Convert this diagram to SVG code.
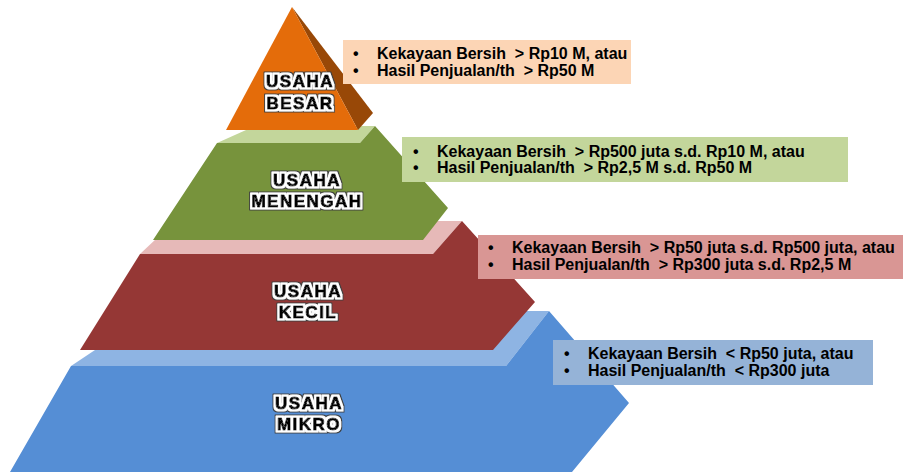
<svg xmlns="http://www.w3.org/2000/svg" width="905" height="472" viewBox="0 0 905 472">
<defs>
<style>
.lbl{font-family:"Liberation Sans",Arial,sans-serif;font-weight:bold;font-size:17px;letter-spacing:1.5px;fill:#000;stroke:#000;stroke-width:1px;stroke-linejoin:round;text-anchor:middle}
.txt{font-family:"Liberation Sans",Arial,sans-serif;font-weight:bold;font-size:16px;fill:#000}
</style>
<filter id="halo" x="-15%" y="-40%" width="130%" height="180%">
<feMorphology in="SourceAlpha" operator="dilate" radius="2" result="w"/>
<feMorphology in="SourceAlpha" operator="dilate" radius="3" result="o"/>
<feFlood flood-color="#404040"/>
<feComposite in2="o" operator="in" result="oc"/>
<feFlood flood-color="#ffffff"/>
<feComposite in2="w" operator="in" result="wc"/>
<feMerge><feMergeNode in="oc"/><feMergeNode in="wc"/><feMergeNode in="SourceGraphic"/></feMerge>
</filter>
</defs>
<rect width="905" height="472" fill="#fff"/>
<g id="mikro">
<polygon points="71,366 95,350 110,311 549,311 506,366" fill="#8eb4e3"/>
<polygon points="71,366 10,472 572,472 629,403 549,311 506,366" fill="#558ed5"/>
<text class="lbl" filter="url(#halo)" x="309" y="409">USAHA</text>
<text class="lbl" filter="url(#halo)" x="309" y="430">MIKRO</text>
</g>
<g id="kecil">
<polygon points="140,254 175,221 462,221 433,254" fill="#e6b9b8"/>
<polygon points="140,254 80,350 493,350 535,302 462,221 433,254" fill="#953735"/>
<text class="lbl" filter="url(#halo)" x="308" y="297">USAHA</text>
<text class="lbl" filter="url(#halo)" x="308" y="318">KECIL</text>
</g>
<g id="menengah">
<polygon points="217,143 255,126 375,126 360,143" fill="#c3d69b"/>
<polygon points="217,143 153,240 423,240 448,208 375,126 360,143" fill="#77933c"/>
<text class="lbl" filter="url(#halo)" x="307" y="186">USAHA</text>
<text class="lbl" filter="url(#halo)" x="307" y="207">MENENGAH</text>
</g>
<g id="besar">
<polygon points="292,7 373,113 358,130" fill="#984807"/>
<polygon points="292,7 226,130 358,130" fill="#e46c0a"/>
<text class="lbl" filter="url(#halo)" x="300" y="87">USAHA</text>
<text class="lbl" filter="url(#halo)" x="300" y="109">BESAR</text>
</g>
<g id="box-besar">
<rect x="343" y="40" width="288" height="44" fill="#fcd5b5"/>
<text class="txt" x="353" y="59">•</text>
<text class="txt" x="377" y="59" xml:space="preserve">Kekayaan Bersih  &gt; Rp10 M, atau</text>
<text class="txt" x="353" y="76">•</text>
<text class="txt" x="377" y="76" xml:space="preserve">Hasil Penjualan/th  &gt; Rp50 M</text>
</g>
<g id="box-menengah">
<rect x="402" y="137" width="446" height="45" fill="#c3d69b"/>
<text class="txt" x="413" y="157">•</text>
<text class="txt" x="437" y="157" xml:space="preserve">Kekayaan Bersih  &gt; Rp500 juta s.d. Rp10 M, atau</text>
<text class="txt" x="413" y="173">•</text>
<text class="txt" x="437" y="173" xml:space="preserve">Hasil Penjualan/th  &gt; Rp2,5 M s.d. Rp50 M</text>
</g>
<g id="box-kecil">
<rect x="478" y="235" width="425" height="44" fill="#d99694"/>
<text class="txt" x="488" y="253">•</text>
<text class="txt" x="512" y="253" xml:space="preserve">Kekayaan Bersih  &gt; Rp50 juta s.d. Rp500 juta, atau</text>
<text class="txt" x="488" y="270">•</text>
<text class="txt" x="512" y="270" xml:space="preserve">Hasil Penjualan/th  &gt; Rp300 juta s.d. Rp2,5 M</text>
</g>
<g id="box-mikro">
<rect x="553" y="340" width="320" height="45" fill="#95b3d7"/>
<text class="txt" x="564" y="359">•</text>
<text class="txt" x="588" y="359" xml:space="preserve">Kekayaan Bersih  &lt; Rp50 juta, atau</text>
<text class="txt" x="564" y="376">•</text>
<text class="txt" x="588" y="376" xml:space="preserve">Hasil Penjualan/th  &lt; Rp300 juta</text>
</g>
<g id="connectors"/>
</svg>
